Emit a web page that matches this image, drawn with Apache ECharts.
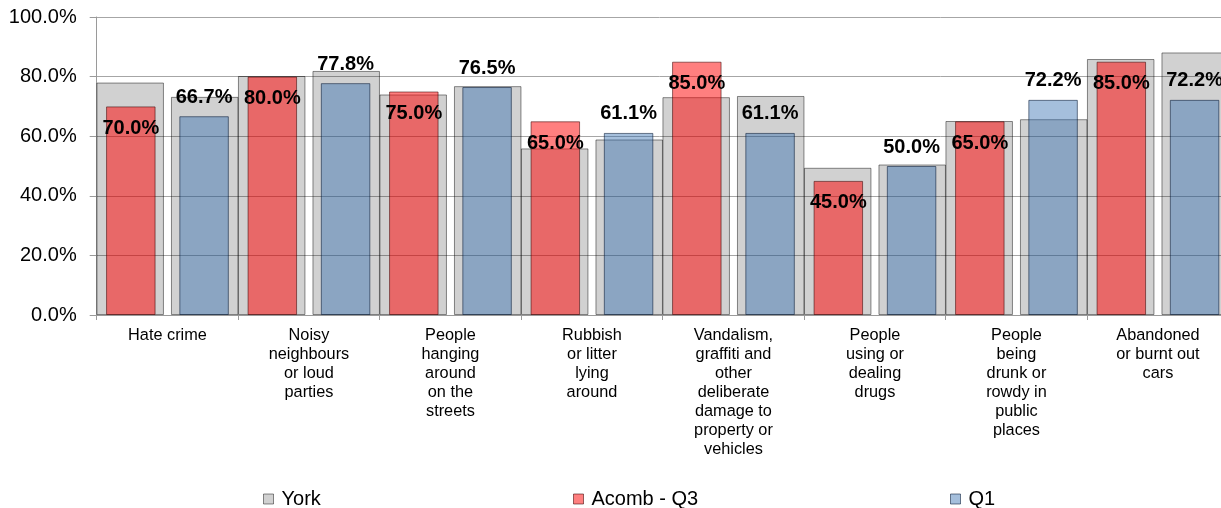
<!DOCTYPE html>
<html>
<head>
<meta charset="utf-8">
<script src="https://cdn.jsdelivr.net/npm/echarts@6/dist/echarts.min.js"></script>
<style>
  html, body { margin: 0; padding: 0; background: #fff; }
  #chart { width: 1221px; height: 508px; }
</style>
</head>
<body>
<div id="chart"></div>
<script>
// Problem categories (line breaks as printed under the axis)
const categories = [
  'Hate crime',
  'Noisy\nneighbours\nor loud\nparties',
  'People\nhanging\naround\non the\nstreets',
  'Rubbish\nor litter\nlying\naround',
  'Vandalism,\ngraffiti and\nother\ndeliberate\ndamage to\nproperty or\nvehicles',
  'People\nusing or\ndealing\ndrugs',
  'People\nbeing\ndrunk or\nrowdy in\npublic\nplaces',
  'Abandoned\nor burnt out\ncars'
];

// York-wide comparison values for each period (%)
const yorkQ3 = [78.0, 80.2, 74.0, 55.9, 73.1, 49.4, 65.1, 85.9];
const yorkQ1 = [73.2, 81.9, 76.8, 58.9, 73.5, 50.5, 65.7, 88.1];

// Acomb ward values (%)
const acombQ3 = [70.0, 80.0, 75.0, 65.0, 85.0, 45.0, 65.0, 85.0];
const acombQ1 = [66.7, 77.8, 76.5, 61.1, 61.1, 50.0, 72.2, 72.2];

// Value axis ticks (%)
const yTicks = { min: 0, max: 100, interval: 20 };

const FONT = '"Liberation Sans", Arial, sans-serif';
const pct = v => Number(v).toFixed(1) + '%';

const yorkStyle = {
  color: 'rgba(0,0,0,0.18)',
  borderColor: 'rgba(0,0,0,0.45)',
  borderWidth: 1
};

const chart = echarts.init(document.getElementById('chart'), null, { renderer: 'canvas' });

const legendBase = {
  orient: 'horizontal',
  top: 489,
  padding: 0,
  icon: 'rect',
  itemWidth: 10,
  itemHeight: 10,
  itemGap: 4,
  selectedMode: true,
  itemStyle: { borderWidth: 1 },
  textStyle: { fontFamily: FONT, fontSize: 20, color: '#000', padding: [0, 0, 0, 3] }
};

chart.setOption({
  animation: false,
  backgroundColor: '#fff',
  textStyle: { fontFamily: FONT },
  // the last category runs slightly past the right edge of the canvas
  grid: {
    left: 96.7, top: 17, height: 298, width: 1132,
    containLabel: false,
    outerBoundsMode: 'none'
  },
  legend: [
    Object.assign({}, legendBase, { left: 263, data: ['York'] }),
    Object.assign({}, legendBase, { left: 573, data: ['Acomb - Q3'] }),
    Object.assign({}, legendBase, { left: 950, data: ['Q1'] })
  ],
  xAxis: [
    {
      type: 'category',
      data: categories,
      position: 'bottom',
      axisLine: { show: true, lineStyle: { color: '#9a9a9a', width: 1 } },
      axisTick: { show: true, length: 5, lineStyle: { color: '#9a9a9a' } },
      axisLabel: {
        interval: 0,
        margin: 11,
        fontFamily: FONT,
        fontSize: 16.3,
        lineHeight: 19,
        color: '#000',
        align: 'center'
      },
      splitLine: { show: false }
    },
    {
      type: 'category',
      data: categories,
      show: false
    }
  ],
  yAxis: {
    type: 'value',
    min: yTicks.min,
    max: yTicks.max,
    interval: yTicks.interval,
    axisLine: { show: true, lineStyle: { color: '#9a9a9a', width: 1 } },
    axisTick: { show: true, length: 7, lineStyle: { color: '#9a9a9a' } },
    axisLabel: {
      margin: 20,
      fontFamily: FONT,
      fontSize: 20,
      color: '#000',
      formatter: pct
    },
    splitLine: { show: true, lineStyle: { color: '#a6a6a6', width: 1 } }
  },
  series: [
    {
      name: 'York',
      type: 'bar',
      xAxisIndex: 0,
      data: yorkQ3,
      barWidth: 67.5,
      barGap: '10.4%',
      itemStyle: yorkStyle,
      emphasis: { disabled: true }
    },
    {
      name: 'York',
      type: 'bar',
      xAxisIndex: 0,
      data: yorkQ1,
      barWidth: 67.5,
      barGap: '10.4%',
      itemStyle: yorkStyle,
      emphasis: { disabled: true }
    },
    {
      name: 'Acomb - Q3',
      type: 'bar',
      xAxisIndex: 1,
      data: acombQ3,
      barWidth: 49.5,
      barGap: '48%',
      itemStyle: {
        color: 'rgba(255,0,0,0.5)',
        borderColor: 'rgba(60,0,0,0.55)',
        borderWidth: 1
      },
      label: {
        show: true,
        position: 'insideTop',
        distance: 12,
        fontFamily: FONT,
        fontSize: 20,
        fontWeight: 'bold',
        color: '#000',
        formatter: p => pct(p.value)
      },
      emphasis: { disabled: true }
    },
    {
      name: 'Q1',
      type: 'bar',
      xAxisIndex: 1,
      data: acombQ1,
      barWidth: 49.5,
      barGap: '48%',
      itemStyle: {
        color: 'rgba(46,107,174,0.43)',
        borderColor: 'rgba(0,20,50,0.55)',
        borderWidth: 1
      },
      label: {
        show: true,
        position: 'top',
        distance: 9,
        fontFamily: FONT,
        fontSize: 20,
        fontWeight: 'bold',
        color: '#000',
        formatter: p => pct(p.value)
      },
      emphasis: { disabled: true }
    }
  ]
});
</script>
</body>
</html>
